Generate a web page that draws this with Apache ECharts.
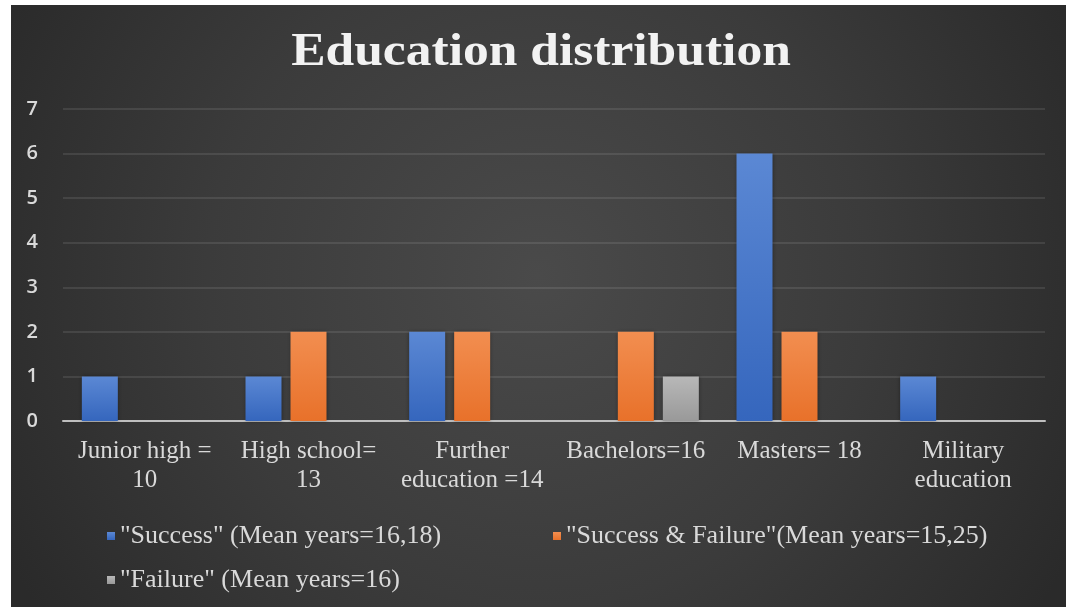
<!DOCTYPE html>
<html>
<head>
<meta charset="utf-8">
<title>Education distribution</title>
<script src="https://cdn.jsdelivr.net/npm/echarts@6/dist/echarts.min.js"></script>
<style>
  html, body { margin: 0; padding: 0; background: #ffffff; }
  #chart { position: absolute; left: 11px; top: 5px; width: 1055px; height: 602px; }
</style>
</head>
<body>
<div id="chart"></div>
<script>
// Education level categories (x axis)
const categories = [
  'Junior high =\n10',
  'High school=\n13',
  'Further\neducation =14',
  'Bachelors=16',
  'Masters= 18',
  'Military\neducation'
];

// Series names
const seriesNames = [
  '"Success" (Mean years=16,18)',
  '"Success & Failure"(Mean years=15,25)',
  '"Failure" (Mean years=16)'
];

// Counts per education level
const successValues = [1, 1, 2, 0, 6, 1];
const successFailureValues = [0, 2, 2, 2, 2, 0];
const failureValues = [0, 0, 0, 1, 0, 0];

// Y axis range
const yMin = 0;
const yMax = 7;
const yInterval = 1;

const chartTitle = 'Education distribution';

const serif = '"Liberation Serif", "Times New Roman", serif';

function vGrad(top, bottom) {
  return new echarts.graphic.LinearGradient(0, 0, 0, 1, [
    { offset: 0, color: top },
    { offset: 1, color: bottom }
  ]);
}

function barSeries(name, values, top, bottom) {
  return {
    name: name,
    type: 'bar',
    data: values,
    barWidth: 36,
    barGap: '25%',
    itemStyle: {
      color: vGrad(top, bottom),
      shadowColor: 'rgba(0,0,0,0.35)',
      shadowBlur: 4
    }
  };
}

function legendRow(name, left, top) {
  return {
    data: [name], left: left, top: top, padding: 0,
    icon: 'rect', itemWidth: 8, itemHeight: 8, itemGap: 0,
    textStyle: { fontFamily: serif, fontSize: 26, color: '#d9d9d9' }
  };
}

const chart = echarts.init(document.getElementById('chart'));

chart.setOption({
  animation: false,
  backgroundColor: {
    type: 'radial', x: 0.5, y: 0.45, r: 1.0,
    colorStops: [
      { offset: 0, color: '#4a4a4a' },
      { offset: 0.55, color: '#3b3b3b' },
      { offset: 1, color: '#2a2a2a' }
    ]
  },
  // Title drawn as a widened text element (spaced-out heading look)
  graphic: [{
    type: 'text',
    x: 530,
    y: 48,
    scaleX: 1.12,
    style: {
      text: chartTitle,
      align: 'center',
      verticalAlign: 'middle',
      fontFamily: serif,
      fontSize: 46,
      fontWeight: 'bold',
      fill: '#f2f2f2',
      shadowColor: 'rgba(0,0,0,0.75)',
      shadowBlur: 4,
      shadowOffsetX: 2,
      shadowOffsetY: 2
    }
  }],
  grid: { left: 52, right: 21, top: 104, bottom: 186, containLabel: false },
  legend: [
    legendRow(seriesNames[0], 96, 518),
    legendRow(seriesNames[1], 542, 518),
    legendRow(seriesNames[2], 96, 562)
  ],
  xAxis: {
    type: 'category',
    data: categories,
    axisLine: { lineStyle: { color: '#bfbfbf', width: 2 } },
    axisTick: { show: false },
    axisLabel: {
      interval: 0,
      margin: 16,
      fontFamily: serif,
      fontSize: 25,
      lineHeight: 29,
      color: '#d9d9d9'
    }
  },
  yAxis: {
    type: 'value',
    min: yMin,
    max: yMax,
    interval: yInterval,
    axisLine: { show: false },
    axisTick: { show: false },
    axisLabel: {
      margin: 25,
      fontFamily: '"Open Sans", sans-serif',
      fontSize: 20,
      fontWeight: 600,
      color: '#d9d9d9'
    },
    splitLine: { lineStyle: { color: 'rgba(255,255,255,0.13)', width: 1.5 } }
  },
  series: [
    barSeries(seriesNames[0], successValues, '#5b88d4', '#3566bd'),
    barSeries(seriesNames[1], successFailureValues, '#f28e50', '#e8712a'),
    barSeries(seriesNames[2], failureValues, '#b8b8b8', '#999999')
  ]
});
</script>
</body>
</html>
